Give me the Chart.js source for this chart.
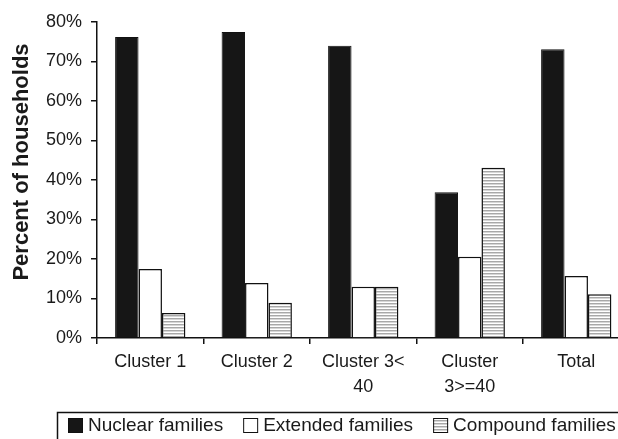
<!DOCTYPE html>
<html>
<head>
<meta charset="utf-8">
<script src="https://cdn.jsdelivr.net/npm/chart.js@4.4.1/dist/chart.umd.min.js"></script>
<style>
  html, body { margin: 0; padding: 0; background: #fff; overflow: hidden; }
  #wrap { width: 618px; height: 439px; overflow: hidden; }
</style>
</head>
<body>
<div id="wrap"><canvas id="chart" width="640" height="439"></canvas></div>
<script>
const categories = ['Cluster 1', 'Cluster 2', ['Cluster 3<', '40'], ['Cluster', '3>=40'], 'Total'];
const nuclear = [76.2, 77.5, 74.0, 36.9, 73.1];
const extended = [17.5, 13.9, 13.0, 20.6, 15.7];
const compound = [6.3, 8.9, 13.0, 43.1, 11.1];
const yMax = 80;
const yStep = 10;
const seriesNames = ['Nuclear families', 'Extended families', 'Compound families'];
const yTitle = 'Percent of households';

const FONT = '"Liberation Sans", Arial, sans-serif';

// horizontal stripe fill for the compound bars
function stripes() {
    var c = document.createElement('canvas');
    c.width = 4; c.height = 3;
    var g = c.getContext('2d');
    g.fillStyle = '#ffffff'; g.fillRect(0, 0, 4, 3);
    g.fillStyle = '#a8a8a8'; g.fillRect(0, 0, 4, 1);
    g.fillStyle = '#d6d6d6'; g.fillRect(0, 1, 4, 1);
    return g.createPattern(c, 'repeat');
}
const stripeFill = stripes();

// boxed legend along the bottom, plus the rotated axis title
const extras = {
    id: 'extras',
    afterDraw(chart) {
        const ctx = chart.ctx;
        ctx.save();
        // axis title
        ctx.translate(22, 162);
        ctx.rotate(-Math.PI / 2);
        ctx.font = 'bold 22px ' + FONT;
        ctx.fillStyle = '#1a1a1a';
        ctx.textAlign = 'center';
        ctx.textBaseline = 'middle';
        ctx.fillText(yTitle, 0, 0);
        ctx.restore();

        ctx.save();
        ctx.strokeStyle = '#111';
        ctx.lineWidth = 1.5;
        ctx.strokeRect(57.5, 412.5, 700, 60);
        ctx.font = '19px ' + FONT;
        ctx.textBaseline = 'middle';
        ctx.fillStyle = '#1a1a1a';
        let x = 68;
        const y = 425;
        chart.data.datasets.forEach(function (ds) {
            ctx.fillStyle = ds.backgroundColor;
            ctx.fillRect(x, y - 7, 15, 15);
            ctx.lineWidth = 1;
            ctx.strokeStyle = '#111';
            ctx.strokeRect(x + 0.5, y - 6.5, 14, 14);
            ctx.fillStyle = '#1a1a1a';
            ctx.fillText(ds.label, x + 20, y + 1);
            x += 20 + ctx.measureText(ds.label).width + 20;
        });
        ctx.restore();
    }
};

new Chart(document.getElementById('chart').getContext('2d'), {
    type: 'bar',
    data: {
        labels: categories,
        datasets: [
            { label: seriesNames[0], data: nuclear, backgroundColor: '#161616', borderColor: '#111', borderWidth: 1 },
            { label: seriesNames[1], data: extended, backgroundColor: '#ffffff', borderColor: '#111', borderWidth: 1.5 },
            { label: seriesNames[2], data: compound, backgroundColor: stripeFill, borderColor: '#111', borderWidth: 1.5 }
        ]
    },
    options: {
        responsive: false,
        animation: false,
        layout: { padding: { top: 22, right: 10.5, left: 0, bottom: 0 } },
        datasets: { bar: { categoryPercentage: 0.66, barPercentage: 1 } },
        plugins: {
            legend: { display: false },
            tooltip: { enabled: false }
        },
        scales: {
            x: {
                grid: { drawOnChartArea: false, drawTicks: true, tickLength: 6, color: '#111', lineWidth: 1.5 },
                border: { color: '#111', width: 1.5 },
                ticks: { color: '#1a1a1a', font: { family: FONT, size: 18, lineHeight: 1.4 }, padding: 5, maxRotation: 0, autoSkip: false },
                afterFit: function (s) { s.height = 101; }
            },
            y: {
                min: 0,
                max: yMax,
                grid: { drawOnChartArea: false, drawTicks: true, tickLength: 6, color: '#111', lineWidth: 1.5 },
                border: { color: '#111', width: 1.5 },
                ticks: {
                    stepSize: yStep,
                    color: '#1a1a1a',
                    padding: 9,
                    font: { family: FONT, size: 18 },
                    callback: function (v) { return v + '%'; }
                },
                afterFit: function (s) { s.width = 97; }
            }
        }
    },
    plugins: [extras]
});
</script>
</body>
</html>
